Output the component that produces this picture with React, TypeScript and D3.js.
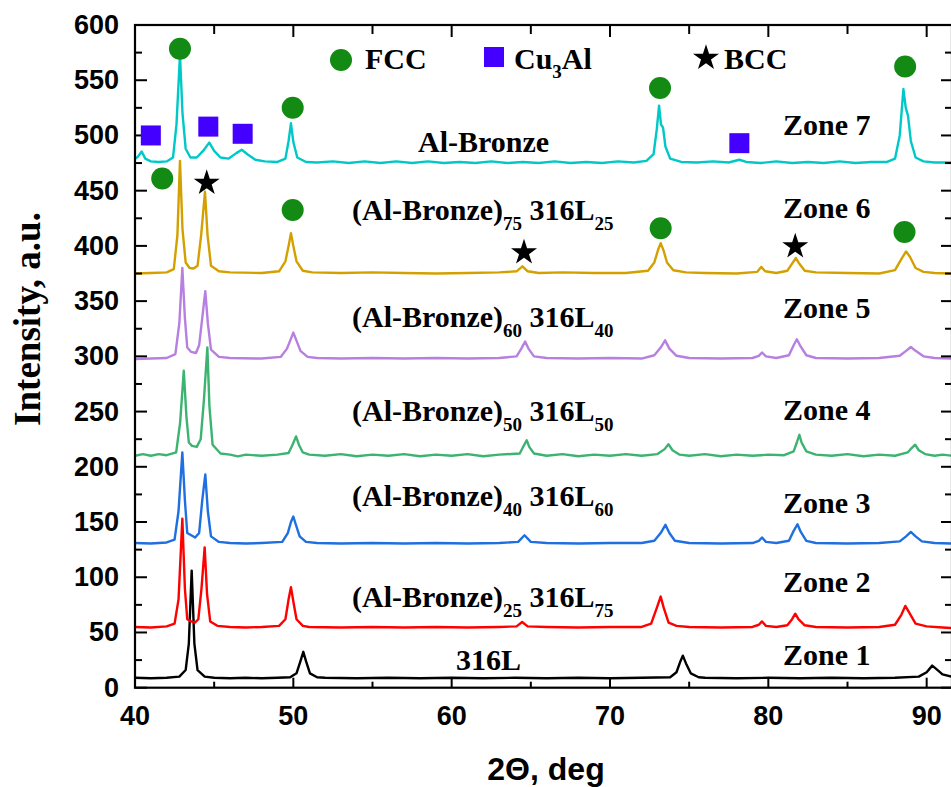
import React from 'react';
import * as d3 from 'd3';

// XRD patterns, [2theta, intensity]
const zone1 = [
	[40, 9], [41, 8.5], [42, 9], [42.8, 10], [43.2, 16], [43.4, 40], [43.58, 106], [43.75, 40], [43.95, 16], [44.4, 10],
	[45, 9], [46, 8.5], [47, 9], [48, 8.5], [49, 9], [49.8, 9.5], [50.2, 13], [50.45, 24], [50.63, 32.5], [50.8, 24],
	[51.05, 13], [51.5, 9.5], [52, 9], [54, 8.5], [56, 9], [58, 8.5], [60, 9], [62, 8.5], [64, 9], [66, 8.5], [68, 9],
	[70, 8.5], [72, 9], [73.8, 9.5], [74.2, 14], [74.45, 24], [74.6, 29], [74.8, 22], [75.1, 13], [75.6, 9.5], [76, 9],
	[78, 8.5], [80, 9], [82, 8.5], [84, 9], [86, 8.5], [88, 9], [89.5, 10], [90, 14], [90.35, 20], [90.6, 17], [91, 12],
	[91.6, 10],
];
const zone2 = [
	[40, 55], [41, 54.5], [42, 55.5], [42.5, 58], [42.75, 80], [42.99, 153], [43.15, 90], [43.3, 62], [43.55, 60],
	[43.8, 59], [44.0, 62], [44.2, 90], [44.4, 127], [44.55, 85], [44.75, 60], [45.2, 56], [46, 55], [47, 54.5], [48, 55],
	[49.1, 56], [49.5, 62], [49.7, 80], [49.85, 91], [50.0, 78], [50.2, 62], [50.6, 56], [51, 55], [53, 54.5], [55, 55],
	[57, 54.5], [59, 55], [61, 54.5], [63, 55], [64.1, 55.5], [64.45, 59.5], [64.8, 55.5], [66, 55], [68, 54.5], [70, 55],
	[72, 55], [72.6, 58], [72.95, 72], [73.2, 82.5], [73.4, 72], [73.7, 59], [74.2, 56], [75, 55], [77, 54.5], [79, 55],
	[79.4, 57], [79.6, 60], [79.85, 56], [80.5, 55], [81.2, 56.5], [81.5, 62], [81.7, 67], [81.9, 62], [82.3, 56.5],
	[83, 55], [85, 54.5], [87, 55], [88, 57], [88.4, 66], [88.65, 74], [88.9, 68], [89.3, 58], [90, 55.5], [91, 54.5],
	[91.6, 54],
];
const zone3 = [
	[40, 131], [41, 130.5], [42, 131.5], [42.5, 134], [42.75, 160], [42.99, 213], [43.15, 170], [43.3, 140], [43.55, 138],
	[43.8, 136], [44.05, 140], [44.25, 170], [44.44, 193], [44.6, 160], [44.8, 137], [45.3, 132], [46, 131], [47, 130.5],
	[48, 131], [49.3, 132], [49.65, 140], [49.85, 150], [50.0, 155], [50.15, 148], [50.4, 137], [50.8, 132], [51.5, 131],
	[53, 130.5], [55, 131], [57, 130.5], [59, 131], [61, 130.5], [63, 131], [64.2, 132], [64.6, 138], [65.0, 132],
	[66, 131], [68, 130.5], [70, 131], [72, 131], [72.8, 133], [73.2, 140], [73.5, 147.5], [73.75, 140], [74.1, 133],
	[75, 131], [77, 130.5], [79, 131], [79.4, 133], [79.6, 136], [79.85, 132], [80.5, 131], [81.3, 133], [81.6, 142],
	[81.84, 148], [82.05, 141], [82.4, 133], [83, 131], [85, 130.5], [87, 131], [88.3, 132.5], [88.7, 137], [89.0, 141],
	[89.3, 137], [89.7, 132.5], [90.5, 131], [91.6, 130.5],
];
const zone4 = [
	[40, 210], [40.5, 211.5], [41, 210], [41.5, 211.5], [42, 210.5], [42.6, 213], [42.85, 240], [43.08, 287], [43.25, 245],
	[43.4, 222], [43.6, 219], [43.9, 218], [44.15, 225], [44.35, 260], [44.57, 308], [44.7, 255], [44.9, 220], [45.4, 212],
	[46, 211], [46.5, 209.5], [47, 211], [48, 210], [49, 211], [49.7, 212.5], [49.95, 220], [50.17, 227.5], [50.35, 220],
	[50.6, 213], [51, 211], [52, 210], [53, 211.5], [54, 209.5], [55, 211], [56, 210], [57, 211.5], [58, 209.5], [59, 211],
	[60, 210], [61, 211.5], [62, 209.5], [63, 211], [64.3, 212], [64.55, 219], [64.74, 224], [64.9, 218], [65.2, 212],
	[66, 210], [67, 211.5], [68, 209.5], [69, 211], [70, 210], [71, 211.5], [72, 210], [73, 211.5], [73.45, 216],
	[73.69, 220.5], [73.95, 215], [74.4, 211], [75, 210], [76, 211.5], [77, 209.5], [78, 211], [79, 210], [80, 211],
	[81, 210.5], [81.6, 214], [81.8, 222], [81.96, 229], [82.1, 222], [82.4, 214], [83, 211], [84, 210], [85, 211.5],
	[86, 209.5], [87, 211], [88, 210], [88.8, 213], [89.05, 217], [89.27, 220], [89.5, 215], [89.9, 211.5], [90.5, 210],
	[91, 211], [91.6, 210],
];
const zone5 = [
	[40, 297.5], [41, 298], [42, 298.5], [42.55, 302], [42.8, 330], [42.99, 380], [43.15, 335], [43.3, 308], [43.55, 304],
	[43.85, 303], [44.05, 310], [44.25, 335], [44.44, 359], [44.6, 330], [44.8, 306], [45.3, 299.5], [46, 298.5], [48, 298],
	[49.2, 299.5], [49.6, 307], [49.85, 316], [50.0, 321.5], [50.15, 316], [50.45, 305], [50.9, 299.5], [51.5, 298.5],
	[53, 298], [55, 298.5], [57, 298], [59, 298.5], [61, 298], [63, 298.5], [64.1, 300], [64.4, 307], [64.64, 313.5],
	[64.85, 307], [65.2, 300], [66, 298.5], [68, 298], [70, 298.5], [72, 298], [72.8, 301], [73.2, 308], [73.48, 314.5],
	[73.75, 307], [74.2, 300.5], [75, 298.5], [77, 298], [79, 298.5], [79.4, 300.5], [79.6, 303.5], [79.85, 300],
	[80.5, 298.5], [81.3, 301], [81.6, 310], [81.8, 315.5], [82.0, 310], [82.4, 301], [83, 298.5], [85, 298], [87, 298.5],
	[88.3, 300.5], [88.7, 305], [89.0, 308.5], [89.3, 305], [89.8, 300], [90.5, 298.5], [91.6, 298],
];
const zone6 = [
	[40, 375], [41, 375.5], [42, 376], [42.45, 379], [42.68, 410], [42.84, 477], [43.0, 415], [43.2, 385], [43.45, 380],
	[43.7, 379.5], [43.95, 382], [44.18, 410], [44.42, 449], [44.58, 410], [44.8, 382], [45.3, 377], [46, 376], [48, 375.5],
	[49.1, 377], [49.5, 386], [49.7, 400], [49.85, 411.5], [50.0, 400], [50.2, 386], [50.6, 377.5], [51.2, 376],
	[53, 375.5], [55, 376], [57, 375.5], [59, 375], [61, 375.5], [63, 376], [64.1, 377], [64.47, 381.5], [64.8, 377],
	[65.5, 375.5], [67, 376], [69, 375.5], [71, 375.5], [72.4, 377.5], [72.8, 385], [73.05, 397], [73.2, 402.5],
	[73.38, 396], [73.6, 385], [74.0, 378], [74.8, 376], [76, 375.5], [78, 375], [79.3, 376.5], [79.55, 381], [79.8, 377],
	[80.5, 375.5], [81.2, 377.5], [81.5, 384], [81.74, 389], [81.95, 384], [82.3, 377.5], [83, 376], [85, 375.5],
	[87, 375], [88.0, 378], [88.4, 388], [88.7, 395], [88.95, 390], [89.3, 380], [89.8, 376.5], [90.5, 375.5], [91.6, 375],
];
const zone7 = [
	[40, 479], [40.2, 481], [40.42, 485.5], [40.65, 479], [41, 476.5], [41.5, 476], [42, 476.5], [42.4, 480], [42.62, 510],
	[42.84, 573], [43.0, 520], [43.2, 488], [43.5, 480], [43.9, 480], [44.3, 486], [44.69, 493.5], [45.0, 486],
	[45.4, 480], [45.9, 479], [46.4, 484], [46.74, 487], [47.1, 483], [47.6, 478], [48.2, 476.5], [49, 476], [49.5, 479],
	[49.7, 495], [49.85, 511], [50.0, 494], [50.25, 480], [50.8, 476], [51.5, 475.5], [52.5, 476.5], [53.5, 475],
	[54.5, 476.5], [55.5, 475], [56.5, 476.5], [57.5, 475], [58.5, 476.5], [59.5, 475], [60.5, 476], [61.5, 475],
	[62.5, 476.5], [63.5, 475], [64.5, 476], [65.5, 475], [66.5, 476.5], [67.5, 475], [68.5, 476], [69.5, 475],
	[70.5, 476.5], [71.5, 475.5], [72.3, 477], [72.75, 483], [72.95, 505], [73.1, 527], [73.22, 510], [73.35, 507],
	[73.5, 490], [73.8, 479], [74.5, 476], [75.5, 475.5], [76.5, 476.5], [77.5, 475.5], [78.17, 478], [78.6, 476],
	[79.5, 475], [80.5, 476.5], [81.5, 475], [82.5, 476], [83.5, 475], [84.5, 476.5], [85.5, 475], [86.5, 476], [87.5, 476],
	[88.0, 479], [88.3, 500], [88.53, 542], [88.68, 525], [88.82, 518], [89.0, 495], [89.3, 480], [89.8, 476.5],
	[90.5, 475.5], [91.6, 475.5],
];

const seriesList = [zone1, zone2, zone3, zone4, zone5, zone6, zone7];
const seriesColors = ['#000000', '#ff0000', '#1f6fe0', '#3cb371', '#b77fe0', '#d4a000', '#00c8c8'];

// phase markers [2theta, intensity]
const fccMarks = [
	[42.84, 578.5], [49.96, 525], [73.16, 543], [88.64, 562.5],
	[41.72, 461], [49.96, 432.5], [73.2, 416], [88.6, 412.5],
];
const cu3alMarks = [[41.0, 500], [44.63, 508], [46.8, 501.5], [78.17, 493]];
const bccMarks = [[44.53, 457], [64.57, 394], [81.7, 399.5]];

const zoneLabels = ['Zone 1', 'Zone 2', 'Zone 3', 'Zone 4', 'Zone 5', 'Zone 6', 'Zone 7'];
const zoneLabelY = [665, 592, 513, 420, 318, 218, 135];
const mixLabels = [
	['75', '25'],
	['60', '40'],
	['50', '50'],
	['40', '60'],
	['25', '75'],
];
const mixLabelY = [220, 327, 421, 506, 607];

const xTicks = [40, 50, 60, 70, 80, 90];
const yTicks = [0, 50, 100, 150, 200, 250, 300, 350, 400, 450, 500, 550, 600];

const width = 951;
const height = 787;
const margin = { left: 135, right: 952, top: 25, bottom: 687.7 };

const serif = '"Liberation Serif", "Times New Roman", serif';
const sans = '"Liberation Sans", Arial, sans-serif';

const starPath = d3.symbol(d3.symbolStar, 210)();

export default function App() {
	const x = d3.scaleLinear().domain([40, 91.6]).range([margin.left, margin.right]);
	const y = d3.scaleLinear().domain([0, 600]).range([margin.bottom, margin.top]);
	const line = d3
		.line()
		.x(d => x(d[0]))
		.y(d => y(d[1]));

	const xMinor = d3.range(45, 91, 10);
	const yMinor = d3.range(25, 600, 50);

	return (
		<svg width={width} height={height} style={{ position: 'absolute', left: 0, top: 0, background: '#fff' }}>
			{/* traces */}
			{seriesList.map((s, i) => (
				<path key={i} d={line(s)} fill="none" stroke={seriesColors[i]} strokeWidth={2.4} strokeLinejoin="round" />
			))}

			{/* frame */}
			<rect x={margin.left} y={margin.top} width={margin.right - margin.left} height={margin.bottom - margin.top}
				fill="none" stroke="#000" strokeWidth={2.2} />
			{xTicks.map(t => (
				<g key={'xt' + t}>
					<line x1={x(t)} x2={x(t)} y1={margin.bottom} y2={margin.bottom - 10} stroke="#000" strokeWidth={2} />
					<line x1={x(t)} x2={x(t)} y1={margin.top} y2={margin.top + 12} stroke="#000" strokeWidth={2} />
					<text x={x(t)} y={725} textAnchor="middle" fontFamily={sans} fontWeight="bold" fontSize={27}>{t}</text>
				</g>
			))}
			{xMinor.map(t => (
				<g key={'xm' + t}>
					<line x1={x(t)} x2={x(t)} y1={margin.bottom} y2={margin.bottom - 6} stroke="#000" strokeWidth={2} />
					<line x1={x(t)} x2={x(t)} y1={margin.top} y2={margin.top + 9} stroke="#000" strokeWidth={2} />
				</g>
			))}
			{yTicks.map(t => (
				<g key={'yt' + t}>
					<line x1={margin.left} x2={margin.left + 12} y1={y(t)} y2={y(t)} stroke="#000" strokeWidth={2} />
					<line x1={margin.right} x2={margin.right - 11} y1={y(t)} y2={y(t)} stroke="#000" strokeWidth={2} />
					<text x={119} y={y(t) + 9} textAnchor="end" fontFamily={sans} fontWeight="bold" fontSize={27}>{t}</text>
				</g>
			))}
			{yMinor.map(t => (
				<g key={'ym' + t}>
					<line x1={margin.left} x2={margin.left + 7} y1={y(t)} y2={y(t)} stroke="#000" strokeWidth={2} />
					<line x1={margin.right} x2={margin.right - 7} y1={y(t)} y2={y(t)} stroke="#000" strokeWidth={2} />
				</g>
			))}

			{/* axis titles */}
			<text x={546} y={780} textAnchor="middle" fontFamily={sans} fontWeight="bold" fontSize={32}>2Θ, deg</text>
			<text transform="translate(40,319) rotate(-90)" textAnchor="middle" fontFamily={serif} fontWeight="bold"
				fontSize={37}>Intensity, a.u.</text>

			{/* phase markers */}
			{fccMarks.map((m, i) => (
				<circle key={'f' + i} cx={x(m[0])} cy={y(m[1])} r={11} fill="#138a13" />
			))}
			{cu3alMarks.map((m, i) => (
				<rect key={'c' + i} x={x(m[0]) - 10} y={y(m[1]) - 10} width={20} height={20} fill="#4400ff" />
			))}
			{bccMarks.map((m, i) => (
				<path key={'b' + i} d={starPath} transform={`translate(${x(m[0])},${y(m[1])})`} fill="#000" />
			))}

			{/* legend */}
			<circle cx={341} cy={60} r={11} fill="#138a13" />
			<text x={365} y={69} fontFamily={serif} fontWeight="bold" fontSize={30}>FCC</text>
			<rect x={484} y={47} width={20} height={20} fill="#4400ff" />
			<text x={514} y={69} fontFamily={serif} fontWeight="bold" fontSize={30}>
				Cu<tspan fontSize={19} dy={9}>3</tspan><tspan dy={-9}>Al</tspan>
			</text>
			<path d={starPath} transform="translate(706,58)" fill="#000" />
			<text x={724} y={69} fontFamily={serif} fontWeight="bold" fontSize={30}>BCC</text>

			{/* zone labels */}
			{zoneLabels.map((z, i) => (
				<text key={z} x={783} y={zoneLabelY[i]} fontFamily={serif} fontWeight="bold" fontSize={30}>{z}</text>
			))}
			<text x={418} y={152} fontFamily={serif} fontWeight="bold" fontSize={30}>Al-Bronze</text>
			<text x={456} y={670} fontFamily={serif} fontWeight="bold" fontSize={30}>316L</text>
			{mixLabels.map((m, i) => (
				<text key={i} x={352} y={mixLabelY[i]} fontFamily={serif} fontWeight="bold" fontSize={30}>
					(Al-Bronze)<tspan fontSize={19} dy={10}>{m[0]}</tspan>
					<tspan dy={-10}> 316L</tspan><tspan fontSize={19} dy={10}>{m[1]}</tspan>
				</text>
			))}
		</svg>
	);
}
